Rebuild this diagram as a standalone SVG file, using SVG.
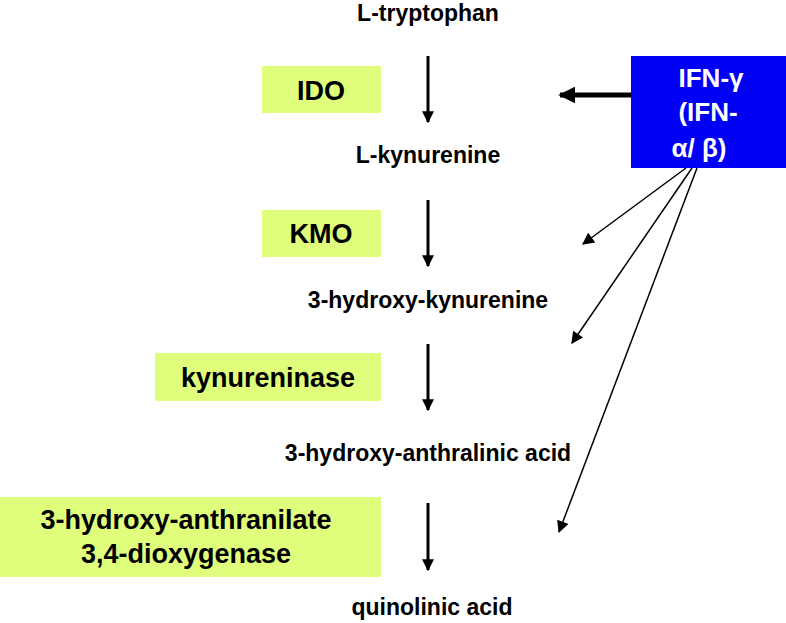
<svg xmlns="http://www.w3.org/2000/svg" width="786" height="623" viewBox="0 0 786 623">
<defs>
<style>
.t{font-family:"Liberation Sans",Arial,sans-serif;font-weight:bold;fill:#000;text-anchor:middle}
.m{font-size:23px}
.e{font-size:27px}
.w{font-family:"Liberation Sans",Arial,sans-serif;font-weight:bold;fill:#fff;text-anchor:middle;font-size:26px}
.g{fill:#dfff7c}
.a{stroke:#000;stroke-width:3;fill:none}
.n{stroke:#000;stroke-width:1.5;fill:none}
</style>
<marker id="ah" viewBox="0 0 10 10" refX="9" refY="5" markerWidth="4" markerHeight="4" orient="auto" markerUnits="strokeWidth"><path d="M0,0L10,5L0,10z" fill="#000"/></marker>
<marker id="ahs" viewBox="0 0 10 10" refX="9" refY="5" markerWidth="10" markerHeight="8" orient="auto" markerUnits="strokeWidth"><path d="M0,0L10,5L0,10z" fill="#000"/></marker>
<marker id="ahb" viewBox="0 0 10 10" refX="9" refY="5" markerWidth="3.4" markerHeight="3.4" orient="auto" markerUnits="strokeWidth"><path d="M0,0L10,5L0,10z" fill="#000"/></marker>
</defs>
<g id="tryptophan"><text class="t m" x="428" y="21">L-tryptophan</text></g>
<g id="kynurenine"><text class="t m" x="428" y="163">L-kynurenine</text></g>
<g id="hydroxykynurenine"><text class="t m" x="428" y="308">3-hydroxy-kynurenine</text></g>
<g id="anthralinic"><text class="t m" x="428" y="461">3-hydroxy-anthralinic acid</text></g>
<g id="quinolinic"><text class="t m" x="432" y="615">quinolinic acid</text></g>
<g id="IDO"><rect class="g" x="262" y="66" width="119" height="47"/><text class="t e" x="321" y="100">IDO</text></g>
<g id="KMO"><rect class="g" x="262" y="210" width="119" height="47"/><text class="t e" x="321" y="243">KMO</text></g>
<g id="kynureninase"><rect class="g" x="155" y="353" width="226" height="48"/><text class="t e" x="268" y="387">kynureninase</text></g>
<g id="dioxygenase"><rect class="g" x="0" y="497" width="381" height="80"/><text class="t e" x="186" y="529">3-hydroxy-anthranilate</text><text class="t e" x="186" y="563">3,4-dioxygenase</text></g>
<g id="IFN"><rect x="631" y="56" width="155" height="112" fill="#0000f5"/><text class="w" x="711" y="87">IFN-γ</text><text class="w" x="708" y="121">(IFN-</text><text class="w" x="699" y="157">α/ β)</text></g>
<g id="connectors">
<line class="a" x1="428" y1="56" x2="428" y2="122" marker-end="url(#ah)"/>
<line class="a" x1="428" y1="200" x2="428" y2="266" marker-end="url(#ah)"/>
<line class="a" x1="428" y1="344" x2="428" y2="410" marker-end="url(#ah)"/>
<line class="a" x1="428" y1="503" x2="428" y2="570" marker-end="url(#ah)"/>
<line stroke="#000" stroke-width="5" x1="631" y1="95" x2="560" y2="95" marker-end="url(#ahb)"/>
<line class="n" x1="686" y1="168" x2="583" y2="244" marker-end="url(#ahs)"/>
<line class="n" x1="692" y1="168" x2="572" y2="343" marker-end="url(#ahs)"/>
<line class="n" x1="697" y1="168" x2="559" y2="532" marker-end="url(#ahs)"/>
</g>
</svg>
